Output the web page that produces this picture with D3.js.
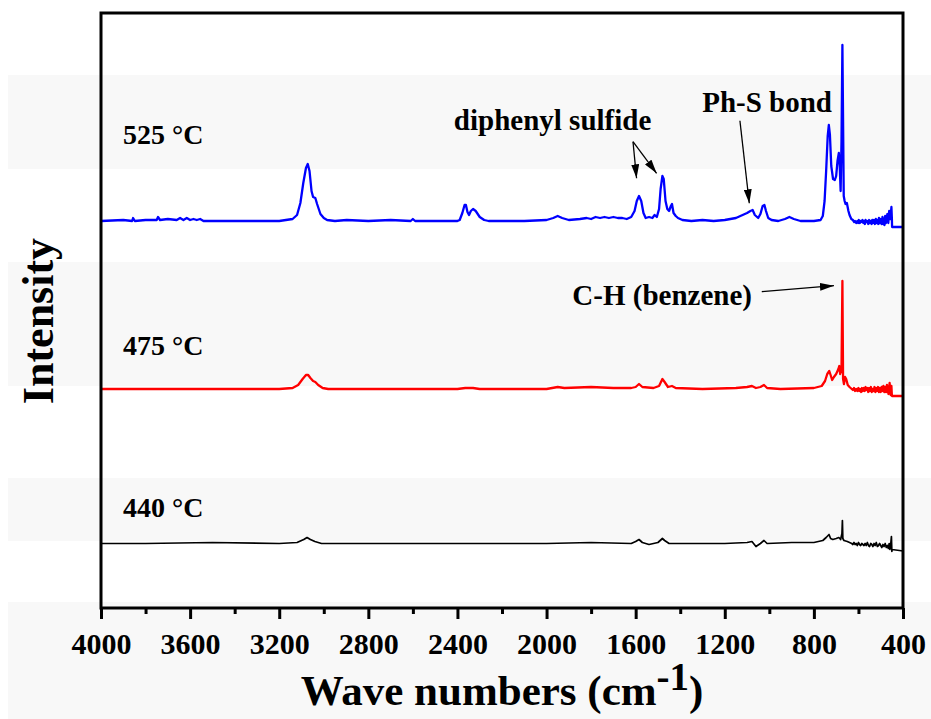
<!DOCTYPE html>
<html>
<head>
<meta charset="utf-8">
<script src="https://cdn.jsdelivr.net/npm/d3@7"></script>
<style>
  body { margin: 0; background: #fff; }
  svg { display: block; }
  text { font-family: "Liberation Serif", "Times New Roman", serif; font-weight: bold; fill: #000; }
</style>
</head>
<body>
<svg id="ftir" width="931" height="719"></svg>
<script>
// x ticks (cm-1)
const majorTicks = [4000, 3600, 3200, 2800, 2400, 2000, 1600, 1200, 800, 400];
const minorTicks = [3800, 3400, 3000, 2600, 2200, 1800, 1400, 1000, 600];

const seriesNames = ["525 °C", "475 °C", "440 °C"];
const seriesColors = ["#0000ff", "#ff0000", "#000000"];
// vertical stacking offset of each spectrum (a.u.)
const seriesOffsets = [3.87, 2.19, 0.645];
// label anchor [wavenumber, intensity]
const labelPos = [[3901, 4.64], [3901, 2.53], [3901, 0.91]];

// [wavenumber, intensity above offset]
const spec525 = [
  [4000, 0.00], [3900, 0.01], [3860, 0.00], [3856, 0.03], [3848, 0.00], [3800, 0.01],
  [3750, 0.01], [3744, 0.04], [3735, 0.01], [3700, 0.02], [3660, 0.01], [3645, 0.03],
  [3630, 0.01], [3615, 0.03], [3600, 0.01], [3585, 0.02], [3570, 0.01], [3555, 0.02],
  [3540, 0.00], [3400, 0.00], [3200, 0.00], [3140, 0.02], [3120, 0.06], [3105, 0.18],
  [3092, 0.38], [3080, 0.53], [3072, 0.57], [3064, 0.50], [3055, 0.30], [3048, 0.24],
  [3038, 0.23], [3030, 0.17], [3015, 0.07], [3000, 0.03], [2985, 0.01], [2950, 0.00],
  [2897, 0.01], [2800, 0.00], [2700, 0.01], [2610, 0.00], [2600, 0.02], [2590, 0.00],
  [2400, 0.00], [2390, 0.01], [2378, 0.08], [2368, 0.16], [2362, 0.16], [2355, 0.09],
  [2348, 0.06], [2340, 0.10], [2330, 0.12], [2318, 0.10], [2300, 0.04], [2280, 0.01],
  [2260, 0.00], [2100, 0.00], [2000, 0.01], [1970, 0.03], [1950, 0.05], [1930, 0.03],
  [1900, 0.01], [1850, 0.02], [1820, 0.03], [1800, 0.02], [1780, 0.04], [1760, 0.03],
  [1740, 0.04], [1720, 0.03], [1700, 0.04], [1680, 0.03], [1660, 0.03], [1640, 0.02],
  [1620, 0.04], [1605, 0.10], [1595, 0.20], [1585, 0.25], [1575, 0.20], [1565, 0.08],
  [1555, 0.03], [1540, 0.04], [1525, 0.03], [1515, 0.06], [1505, 0.04], [1495, 0.12],
  [1488, 0.32], [1480, 0.45], [1474, 0.42], [1466, 0.20], [1458, 0.12], [1450, 0.10],
  [1442, 0.15], [1437, 0.17], [1430, 0.08], [1420, 0.05], [1410, 0.03], [1390, 0.01],
  [1350, 0.00], [1300, 0.01], [1250, 0.00], [1200, 0.01], [1150, 0.03], [1120, 0.06],
  [1100, 0.08], [1085, 0.10], [1075, 0.11], [1065, 0.06], [1050, 0.03], [1040, 0.07],
  [1030, 0.15], [1022, 0.16], [1015, 0.10], [1005, 0.03], [990, 0.01], [960, 0.00],
  [930, 0.02], [910, 0.04], [890, 0.02], [860, 0.00], [800, 0.00], [770, 0.01],
  [760, 0.05], [752, 0.20], [745, 0.50], [738, 0.85], [733, 0.96], [728, 0.86],
  [722, 0.55], [714, 0.42], [706, 0.41], [700, 0.45], [694, 0.60], [688, 0.68],
  [684, 0.55], [680, 0.30], [676, 0.80], [672, 1.76], [669, 1.00], [666, 0.25],
  [662, 0.20], [658, 0.17], [652, 0.18], [645, 0.10], [640, 0.06], [632, 0.02],
  [625, 0.01], [619, -0.01], [615, 0.00], [610, -0.02], [605, 0.00], [601, -0.02],
  [598, 0.01], [594, -0.02], [590, 0.00], [586, -0.01], [582, 0.01], [578, -0.02],
  [575, 0.00], [571, -0.03], [568, 0.01], [564, -0.01], [560, 0.00], [556, -0.03],
  [552, 0.01], [548, -0.02], [545, 0.00], [541, -0.03], [538, 0.01], [534, -0.02],
  [530, 0.01], [526, -0.03], [522, 0.02], [518, -0.02], [515, 0.01], [511, -0.03],
  [508, 0.03], [504, -0.02], [500, 0.02], [496, -0.03], [492, 0.04], [489, -0.03],
  [486, 0.02], [483, -0.04], [480, 0.05], [477, -0.02], [474, 0.03], [470, 0.07],
  [466, -0.02], [462, 0.10], [458, 0.02], [455, 0.06], [452, 0.14], [450, 0.03],
  [449, -0.06], [400, -0.06]
];

const spec475 = [
  [4000, 0.00], [3800, 0.00], [3500, 0.00], [3200, 0.00], [3140, 0.01], [3115, 0.04],
  [3095, 0.10], [3080, 0.14], [3070, 0.14], [3060, 0.11], [3048, 0.08], [3038, 0.07],
  [3025, 0.04], [3005, 0.01], [2980, 0.00], [2600, 0.00], [2400, 0.00], [2365, 0.01],
  [2330, 0.01], [2300, 0.00], [2000, 0.00], [1950, 0.02], [1920, 0.01], [1800, 0.02],
  [1700, 0.01], [1620, 0.01], [1600, 0.02], [1585, 0.05], [1570, 0.02], [1520, 0.01],
  [1495, 0.03], [1480, 0.10], [1470, 0.07], [1455, 0.02], [1437, 0.03], [1420, 0.01],
  [1300, 0.00], [1150, 0.01], [1100, 0.02], [1078, 0.03], [1060, 0.01], [1040, 0.02],
  [1024, 0.04], [1010, 0.01], [950, 0.00], [800, 0.01], [765, 0.03], [750, 0.08],
  [740, 0.15], [731, 0.18], [725, 0.14], [718, 0.09], [710, 0.12], [700, 0.15],
  [690, 0.20], [686, 0.23], [682, 0.15], [676, 0.20], [672, 1.08], [669, 0.10],
  [665, 0.05], [660, 0.12], [655, 0.10], [648, 0.04], [640, 0.02], [630, 0.00],
  [625, -0.01], [620, 0.01], [615, -0.02], [610, 0.00], [605, -0.02], [600, 0.01],
  [596, -0.02], [592, 0.00], [588, -0.03], [584, 0.01], [580, -0.02], [576, 0.01],
  [572, -0.02], [568, 0.02], [564, -0.01], [560, 0.01], [556, -0.03], [552, 0.01],
  [548, -0.02], [544, 0.02], [540, -0.03], [536, 0.00], [532, -0.02], [528, 0.02],
  [524, -0.03], [520, 0.01], [516, -0.02], [512, 0.02], [508, -0.03], [504, 0.01],
  [500, -0.03], [496, 0.02], [492, -0.02], [488, 0.03], [484, -0.03], [480, 0.02],
  [476, -0.03], [472, 0.04], [468, -0.02], [465, -0.05], [462, 0.02], [460, 0.06],
  [457, -0.03], [455, -0.06], [452, 0.03], [450, -0.06], [449, -0.07], [400, -0.07]
];

const spec440 = [
  [4000, 0.00], [3800, 0.00], [3500, 0.01], [3200, 0.00], [3120, 0.01], [3090, 0.04],
  [3075, 0.06], [3060, 0.04], [3040, 0.02], [3010, 0.00], [2600, 0.00], [2000, 0.00],
  [1800, 0.01], [1620, 0.00], [1600, 0.02], [1585, 0.04], [1570, 0.01], [1540, -0.01],
  [1500, 0.01], [1480, 0.05], [1470, 0.03], [1450, 0.00], [1200, 0.00], [1100, 0.01],
  [1078, 0.02], [1060, -0.03], [1040, 0.00], [1024, 0.03], [1010, 0.00], [900, 0.01],
  [800, 0.01], [760, 0.03], [745, 0.06], [732, 0.09], [725, 0.05], [715, 0.04],
  [700, 0.05], [688, 0.06], [680, 0.04], [674, 0.10], [672, 0.23], [670, 0.05],
  [665, 0.03], [650, 0.02], [630, 0.00], [625, -0.01], [620, 0.01], [615, -0.01],
  [610, 0.00], [605, -0.02], [600, 0.01], [595, -0.01], [590, -0.02], [585, 0.00],
  [580, -0.01], [575, -0.02], [570, 0.00], [565, -0.02], [560, 0.01], [555, -0.02],
  [550, -0.03], [545, 0.00], [540, -0.01], [535, -0.03], [530, 0.00], [525, -0.02],
  [520, 0.01], [515, -0.03], [510, -0.02], [505, 0.00], [500, -0.02], [495, -0.04],
  [490, -0.01], [485, -0.03], [480, 0.00], [475, -0.04], [470, -0.02], [466, -0.05],
  [462, 0.00], [459, -0.06], [456, -0.03], [452, 0.07], [450, -0.08], [449, -0.06],
  [400, -0.075]
];

const spectra = [spec525, spec475, spec440];

// annotations: text [wn, I], arrows [fromWn, fromI, toWn, toI]
const annoTexts = [
  { text: "diphenyl sulfide", at: [1973, 4.78], anchor: "middle" },
  { text: "Ph-S bond", at: [1010, 4.96], anchor: "middle" },
  { text: "C-H (benzene)", at: [1078, 3.03], anchor: "end" }
];
const annoArrows = [
  [1612, 4.663, 1596, 4.297],
  [1612, 4.663, 1506, 4.347],
  [1132, 4.873, 1090, 4.047],
  [1034, 3.163, 710, 3.223]
];

const svg = d3.select("#ftir");
const margin = { top: 13, right: 28, bottom: 111, left: 101 };
const width = +svg.attr("width") - margin.left - margin.right;
const height = +svg.attr("height") - margin.top - margin.bottom;

// light background bands
[[75, 169], [262, 386], [478, 541], [602, 719]].forEach(([a, b]) => {
  svg.append("rect")
    .attr("x", 8).attr("y", a)
    .attr("width", 923).attr("height", b - a)
    .attr("fill", "#f8f8f8");
});

const x = d3.scaleLinear().domain([4000, 400]).range([0, width]);
const y = d3.scaleLinear().domain([0, 5.95]).range([height, 0]);

const g = svg.append("g").attr("transform", `translate(${margin.left},${margin.top})`);

svg.append("defs").append("marker")
  .attr("id", "head")
  .attr("markerUnits", "userSpaceOnUse")
  .attr("viewBox", "0 0 14 8")
  .attr("refX", 14).attr("refY", 4)
  .attr("markerWidth", 14).attr("markerHeight", 8)
  .attr("orient", "auto")
  .append("path")
  .attr("d", "M0,0 L14,4 L0,8 Z")
  .attr("fill", "#000");

const line = d3.line();

spectra.forEach((s, i) => {
  g.append("path")
    .datum(s)
    .attr("fill", "none")
    .attr("stroke", seriesColors[i])
    .attr("stroke-width", i === 2 ? 1.7 : 2.3)
    .attr("stroke-linejoin", "round")
    .attr("d", line.x(d => x(d[0])).y(d => y(d[1] + seriesOffsets[i])));

  g.append("text")
    .attr("x", x(labelPos[i][0]))
    .attr("y", y(labelPos[i][1]))
    .style("font-size", "28px")
    .text(seriesNames[i]);
});

annoTexts.forEach(a => {
  g.append("text")
    .attr("x", x(a.at[0]))
    .attr("y", y(a.at[1]))
    .attr("text-anchor", a.anchor)
    .style("font-size", "29px")
    .text(a.text);
});

annoArrows.forEach(a => {
  g.append("line")
    .attr("x1", x(a[0])).attr("y1", y(a[1]))
    .attr("x2", x(a[2])).attr("y2", y(a[3]))
    .attr("stroke", "#000")
    .attr("stroke-width", 1.3)
    .attr("marker-end", "url(#head)");
});

// axes
const xAxis = g.append("g")
  .attr("transform", `translate(0,${height})`)
  .call(d3.axisBottom(x).tickValues(majorTicks).tickSize(11).tickPadding(14).tickFormat(d3.format("d")));
xAxis.select(".domain").remove();
xAxis.selectAll(".tick line").attr("stroke-width", 3);
xAxis.selectAll("text")
  .attr("font-family", null)
  .style("font-size", "30px");

const xMinor = g.append("g")
  .attr("transform", `translate(0,${height})`)
  .call(d3.axisBottom(x).tickValues(minorTicks).tickSize(6).tickFormat(""));
xMinor.select(".domain").remove();
xMinor.selectAll(".tick line").attr("stroke-width", 3);

g.append("rect")
  .attr("width", width)
  .attr("height", height)
  .attr("fill", "none")
  .attr("stroke", "#000")
  .attr("stroke-width", 3);

// axis titles
const xTitle = svg.append("text")
  .attr("x", margin.left + width / 2)
  .attr("y", 705)
  .attr("text-anchor", "middle")
  .style("font-size", "43px");
xTitle.append("tspan").text("Wave numbers (cm");
xTitle.append("tspan").attr("dy", -15).style("font-size", "39px").text("-1");
xTitle.append("tspan").attr("dy", 15).text(")");

svg.append("text")
  .attr("transform", "translate(53,321) rotate(-90)")
  .attr("text-anchor", "middle")
  .style("font-size", "44px")
  .text("Intensity");
</script>
</body>
</html>
